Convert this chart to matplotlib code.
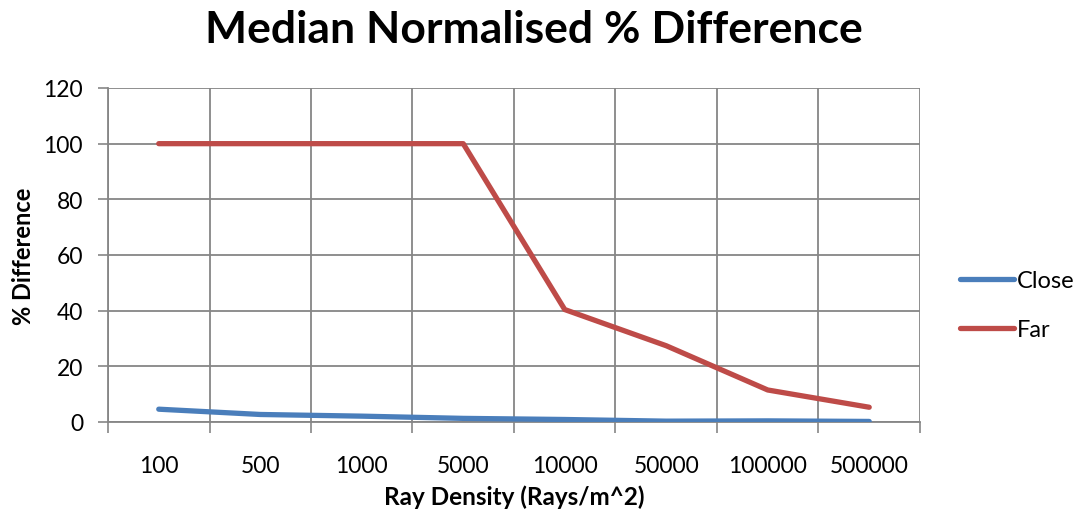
import matplotlib
matplotlib.use("Agg")
import matplotlib.pyplot as plt
from matplotlib.ticker import FixedLocator, NullFormatter

categories = ["100", "500", "1000", "5000", "10000", "50000", "100000", "500000"]
close_vals = [4.6, 2.7, 2.1, 1.3, 0.9, 0.3, 0.4, 0.2]
far_vals = [100, 100, 100, 100, 40.4, 27.4, 11.5, 5.3]
y_ticks = [0, 20, 40, 60, 80, 100, 120]

plt.rcParams['font.family'] = ['Lato', 'DejaVu Sans']

fig = plt.figure(figsize=(10.79, 5.10), dpi=100)
ax = fig.add_axes([0.1001, 0.1706, 0.7525, 0.6549])

xs = [i + 0.5 for i in range(len(categories))]
grid_c = '#868686'

ax.plot(xs, close_vals, color='#4A7EBB', lw=3.8, solid_capstyle='round', label='Close', zorder=3)
ax.plot(xs, far_vals, color='#BE4B48', lw=3.8, solid_capstyle='round', label='Far', zorder=3)

ax.set_xlim(0, len(categories))
ax.set_ylim(0, 120)
ax.set_yticks(y_ticks)
ax.set_yticklabels([str(v) for v in y_ticks])
ax.xaxis.set_major_locator(FixedLocator(range(len(categories) + 1)))
ax.xaxis.set_major_formatter(NullFormatter())
ax.xaxis.set_minor_locator(FixedLocator(xs))
ax.set_xticklabels(categories, minor=True)
ax.tick_params(axis='x', which='minor', length=0, pad=24, labelsize=16.5)
ax.tick_params(axis='x', which='major', length=8, width=1.2, color=grid_c, direction='out')
ax.tick_params(axis='y', length=7, width=1.2, color=grid_c, direction='out', labelsize=16.5, pad=11)

ax.grid(True, which='major', color=grid_c, lw=1.3, zorder=0)
for s in ['top', 'right']:
    ax.spines[s].set_visible(False)
for s in ['left', 'bottom']:
    ax.spines[s].set_color(grid_c)
    ax.spines[s].set_linewidth(1.3)
ax.set_axisbelow(True)

ax.set_xlabel("Ray Density (Rays/m^2)", fontsize=17.5, fontweight='bold', labelpad=6)
ax.set_ylabel("% Difference", fontsize=17, fontweight='bold', labelpad=6)
fig.suptitle("Median Normalised % Difference", fontsize=32, fontweight='bold', x=0.495, y=0.98)

leg = fig.legend(loc='center left', bbox_to_anchor=(0.870, 0.40), frameon=False,
                 fontsize=17, handlelength=2.3, handletextpad=0.1, labelspacing=1.2)

fig.savefig("out.png", dpi=100)
